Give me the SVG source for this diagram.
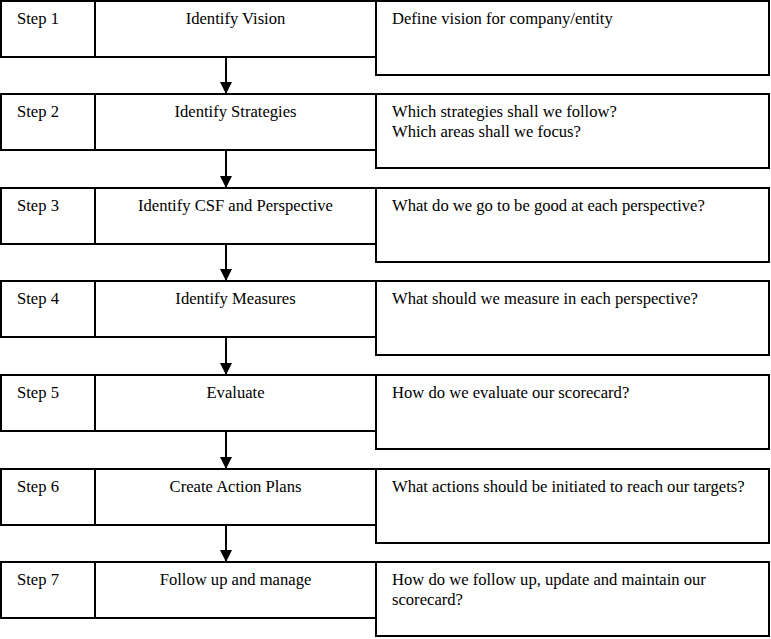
<svg xmlns="http://www.w3.org/2000/svg" width="771" height="639" viewBox="0 0 771 639">
<defs>
<style>
.b{fill:#fff;stroke:#000;stroke-width:2}
.t{font-family:'Liberation Serif','Times New Roman',serif;font-size:16.6px;fill:#000}
.c{text-anchor:middle}
.l{stroke:#000;stroke-width:2;fill:none}
</style>
<marker id="ah" markerWidth="12" markerHeight="12" refX="12" refY="6" viewBox="0 0 12 12" markerUnits="userSpaceOnUse" orient="auto">
<path d="M0,0 L12,6 L0,12 Z" fill="#000"/>
</marker>
</defs>
<g id="connectors">
<line class="l" x1="226" y1="57" x2="226" y2="94" marker-end="url(#ah)"/>
<line class="l" x1="226" y1="150" x2="226" y2="188" marker-end="url(#ah)"/>
<line class="l" x1="226" y1="244" x2="226" y2="281" marker-end="url(#ah)"/>
<line class="l" x1="226" y1="337" x2="226" y2="375" marker-end="url(#ah)"/>
<line class="l" x1="226" y1="431" x2="226" y2="469" marker-end="url(#ah)"/>
<line class="l" x1="226" y1="525" x2="226" y2="562" marker-end="url(#ah)"/>
</g>
<g id="step1">
<rect class="b" x="1" y="1" width="375" height="56"/>
<line class="l" x1="95" y1="1" x2="95" y2="57"/>
<rect class="b" x="376" y="1" width="393" height="74"/>
<text class="t" x="17" y="24">Step 1</text>
<text class="t c" x="235.5" y="24">Identify Vision</text>
<text class="t" x="392" y="24">Define vision for company/entity</text>
</g>
<g id="step2">
<rect class="b" x="1" y="94" width="375" height="56"/>
<line class="l" x1="95" y1="94" x2="95" y2="150"/>
<rect class="b" x="376" y="94" width="393" height="74"/>
<text class="t" x="17" y="117">Step 2</text>
<text class="t c" x="235.5" y="117">Identify Strategies</text>
<text class="t" x="392" y="117">Which strategies shall we follow?</text>
<text class="t" x="392" y="137">Which areas shall we focus?</text>
</g>
<g id="step3">
<rect class="b" x="1" y="188" width="375" height="56"/>
<line class="l" x1="95" y1="188" x2="95" y2="244"/>
<rect class="b" x="376" y="188" width="393" height="74"/>
<text class="t" x="17" y="211">Step 3</text>
<text class="t c" x="235.5" y="211">Identify CSF and Perspective</text>
<text class="t" x="392" y="211">What do we go to be good at each perspective?</text>
</g>
<g id="step4">
<rect class="b" x="1" y="281" width="375" height="56"/>
<line class="l" x1="95" y1="281" x2="95" y2="337"/>
<rect class="b" x="376" y="281" width="393" height="74"/>
<text class="t" x="17" y="304">Step 4</text>
<text class="t c" x="235.5" y="304">Identify Measures</text>
<text class="t" x="392" y="304">What should we measure in each perspective?</text>
</g>
<g id="step5">
<rect class="b" x="1" y="375" width="375" height="56"/>
<line class="l" x1="95" y1="375" x2="95" y2="431"/>
<rect class="b" x="376" y="375" width="393" height="74"/>
<text class="t" x="17" y="398">Step 5</text>
<text class="t c" x="235.5" y="398">Evaluate</text>
<text class="t" x="392" y="398">How do we evaluate our scorecard?</text>
</g>
<g id="step6">
<rect class="b" x="1" y="469" width="375" height="56"/>
<line class="l" x1="95" y1="469" x2="95" y2="525"/>
<rect class="b" x="376" y="469" width="393" height="74"/>
<text class="t" x="17" y="492">Step 6</text>
<text class="t c" x="235.5" y="492">Create Action Plans</text>
<text class="t" x="392" y="492">What actions should be initiated to reach our targets?</text>
</g>
<g id="step7">
<rect class="b" x="1" y="562" width="375" height="56"/>
<line class="l" x1="95" y1="562" x2="95" y2="618"/>
<rect class="b" x="376" y="562" width="393" height="74"/>
<text class="t" x="17" y="585">Step 7</text>
<text class="t c" x="235.5" y="585">Follow up and manage</text>
<text class="t" x="392" y="585">How do we follow up, update and maintain our</text>
<text class="t" x="392" y="605">scorecard?</text>
</g>
</svg>
